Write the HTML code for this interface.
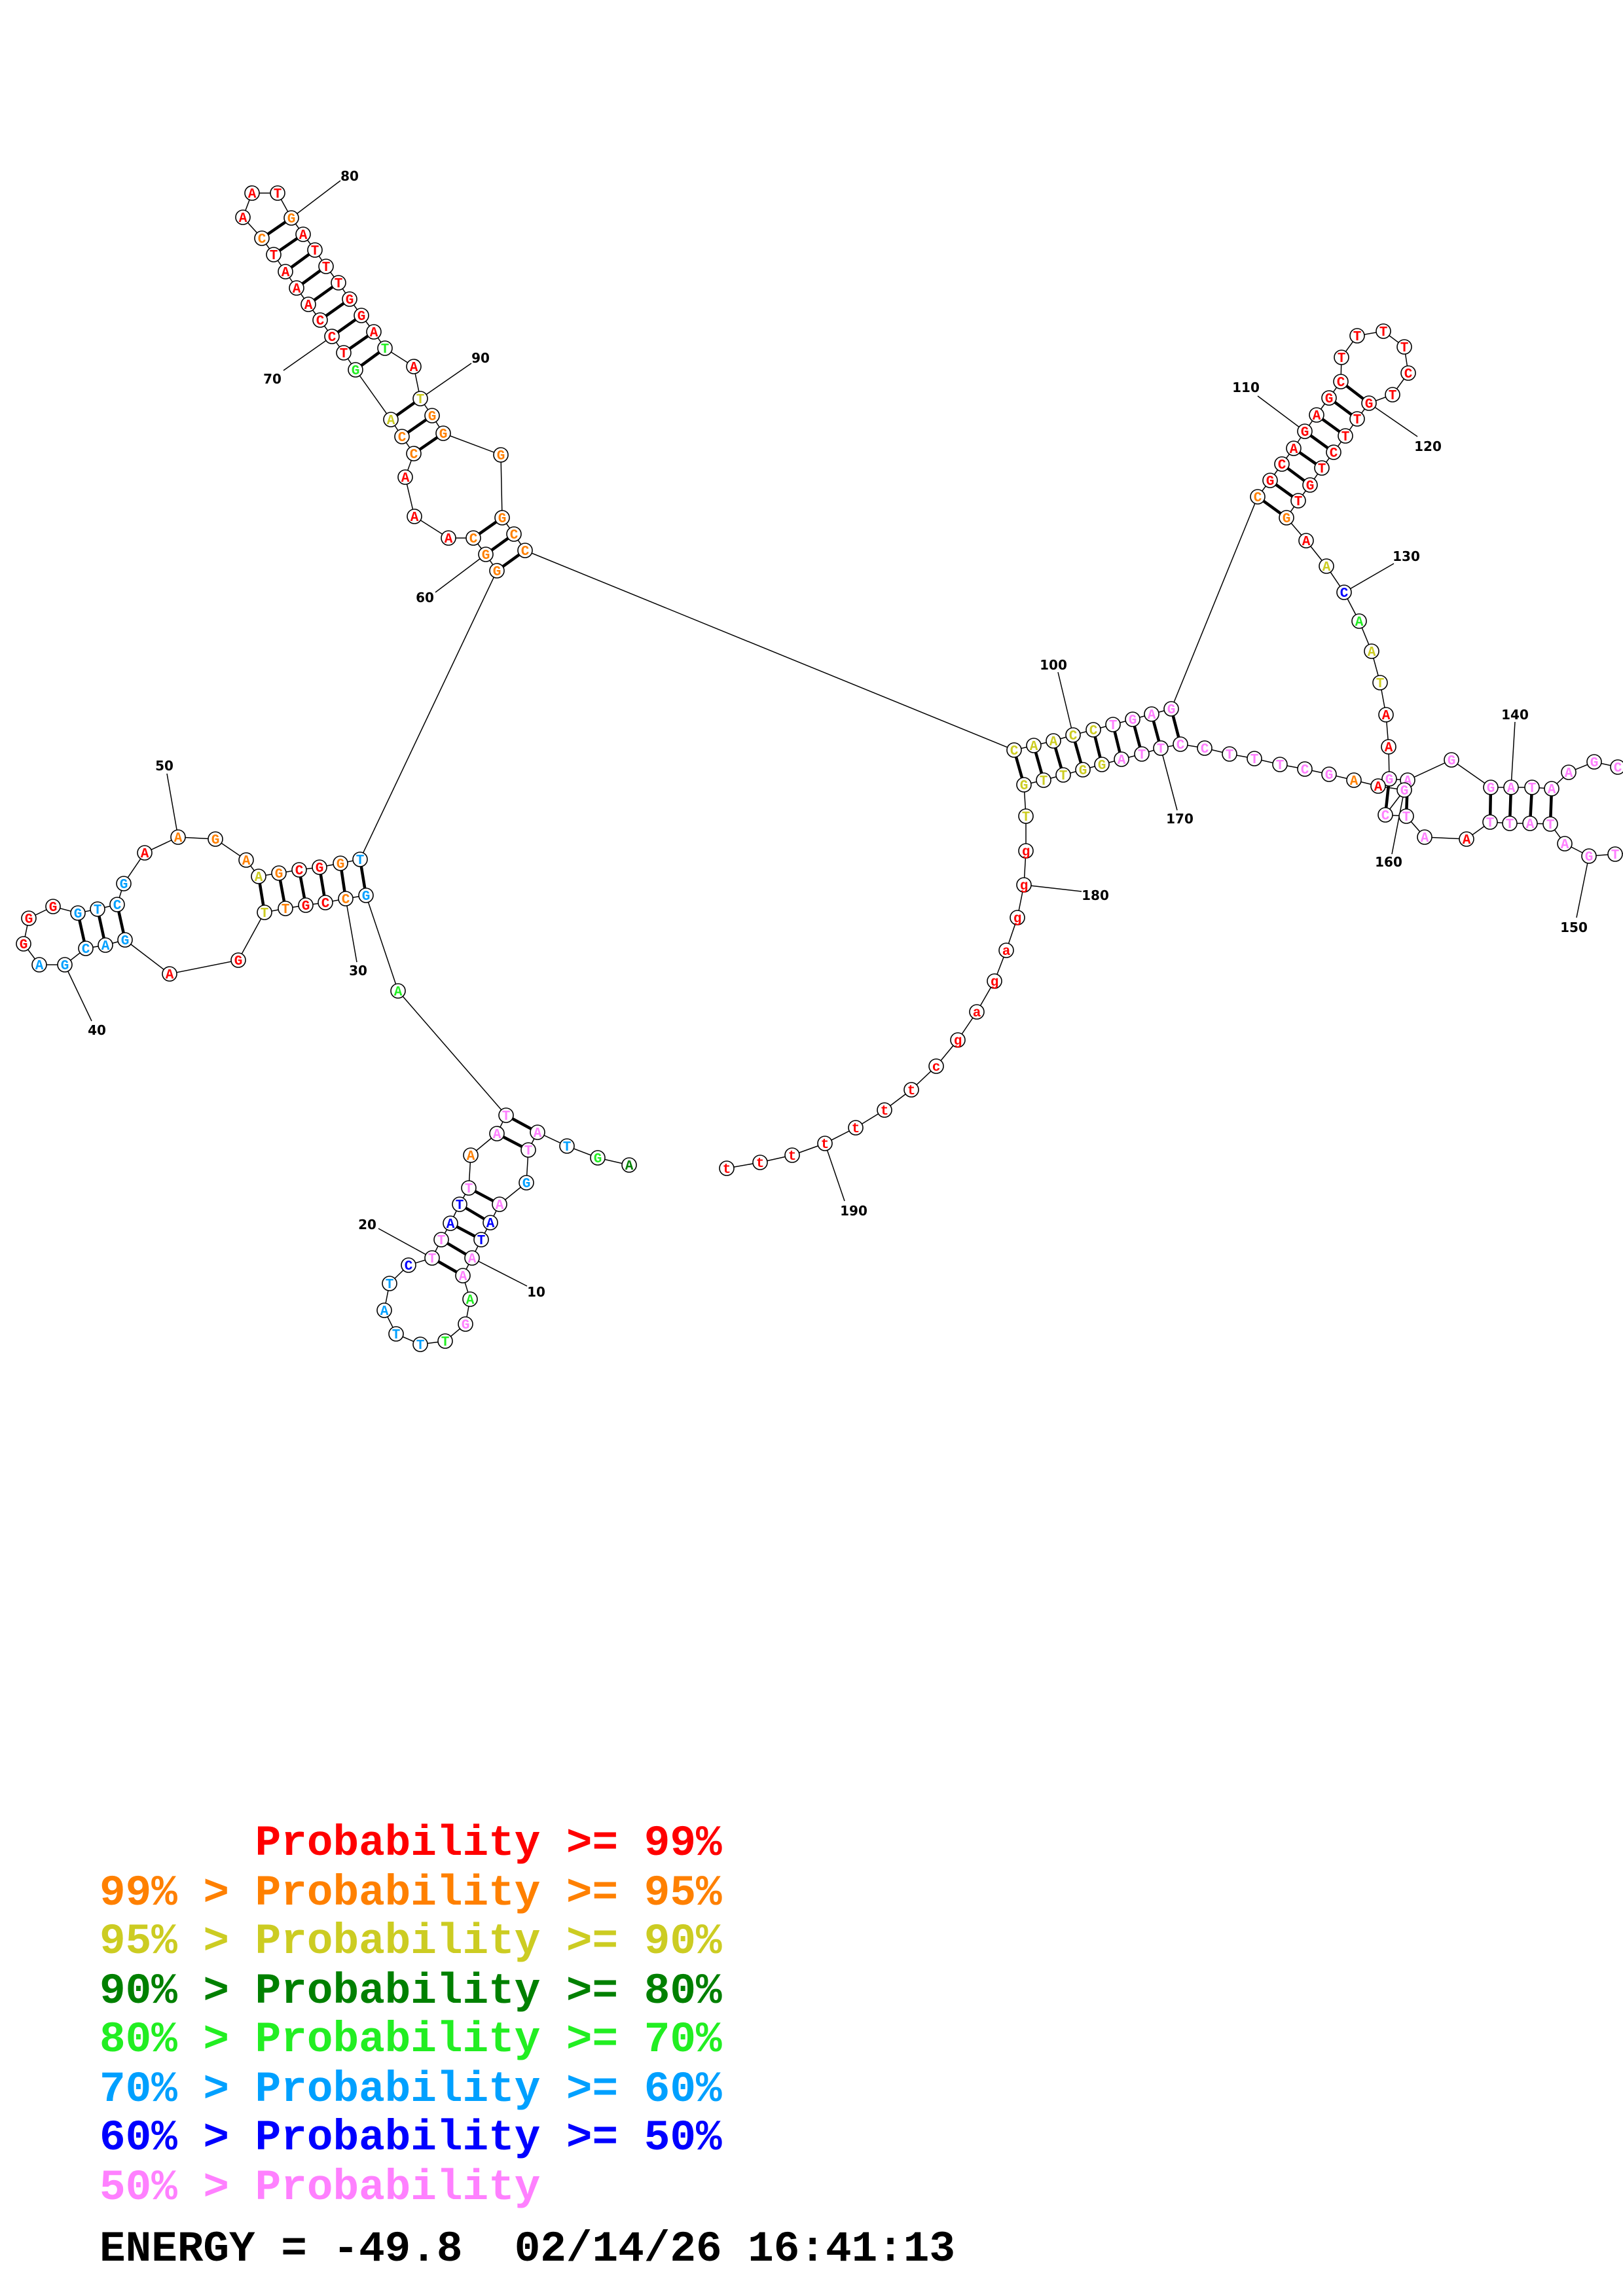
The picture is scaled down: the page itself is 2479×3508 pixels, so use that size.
<!DOCTYPE html>
<html><head><meta charset="utf-8">
<style>
html,body{margin:0;padding:0;background:#fff;}
#w{position:relative;width:2479px;height:3508px;overflow:hidden;background:#fff;}
svg{position:absolute;left:0;top:0;}
circle{fill:#fff;stroke:#000;stroke-width:1.6;}
text.n{font-family:"Liberation Mono",monospace;font-weight:bold;font-size:21px;text-anchor:middle;}
text.l{font-family:"DejaVu Sans","Liberation Sans",sans-serif;font-weight:bold;font-size:20px;text-anchor:middle;fill:#000;}
.r{fill:#ff0000}.o{fill:#ff8000}.y{fill:#cccc22}.dg{fill:#008000}.g{fill:#22ee22}.lb{fill:#00a0ff}.b{fill:#0000ff}.p{fill:#ff80ff}
.leg{position:absolute;left:152px;font-family:"Liberation Mono",monospace;font-weight:bold;font-size:66px;line-height:66px;white-space:pre;}
</style></head><body><div id="w">
<svg width="2479" height="3508" viewBox="0 0 2479 3508" xmlns="http://www.w3.org/2000/svg">
<g fill="none" stroke="#000" stroke-width="1.5">
<polyline points="961,1780 913,1769 866,1751 821,1730 807,1757 804,1807 763,1840 749,1868 735,1894 721,1922 707,1949 718,1985 711,2023 680,2049 642,2054 605,2038 587,2002 595,1961 624,1933 660,1922 674,1894 688,1869 702,1840 716,1815 719,1765 759,1732 773,1704 608,1514 559,1368 528,1373 497,1379 467,1383 436,1388 404,1394 364,1467 259,1488 191,1436 161,1444 131,1449 99,1474 60,1474 36,1442 44,1403 81,1385 119,1395 149,1389 179,1382 189,1350 221,1303 272,1279 329,1282 376,1314 395,1339 426,1334 457,1329 488,1325 520,1319 550,1313 759,872 742,847 723,822 685,822 633,789 619,729 632,693 614,667 597,641 543,565 525,539 507,514 489,489 471,465 453,440 436,415 418,389 400,364 371,332 385,295 424,295 445,333 463,358 481,382 498,407 517,432 534,457 552,482 571,507 588,532 632,560 642,609 660,635 677,662 765,695 767,791 785,816 802,841 1549,1146 1579,1139 1609,1132 1639,1123 1670,1115 1700,1107 1730,1099 1759,1091 1789,1083 1921,759 1940,734 1958,709 1976,685 1993,659 2011,634 2030,608 2048,583 2049,546 2073,513 2113,506 2145,530 2151,570 2127,603 2091,616 2073,640 2055,666 2037,691 2019,715 2001,741 1983,765 1965,791 1995,826 2026,865 2053,905 2076,949 2095,995 2108,1043 2117,1092 2121,1141 2122,1190 2150,1192 2217,1161 2277,1203 2308,1203 2340,1203 2370,1205 2396,1180 2435,1164 2471,1172 2520,1180 2520,1300 2467,1305 2427,1308 2390,1289 2368,1259 2337,1258 2306,1258 2276,1256 2240,1282 2176,1279 2148,1247 2116,1245 2145,1207 2105,1201 2068,1192 2030,1183 1993,1175 1955,1168 1916,1159 1878,1152 1840,1143 1803,1137 1773,1143 1744,1152 1713,1160 1683,1168 1654,1176 1624,1184 1594,1192 1564,1199 1567,1247 1567,1300 1564,1352 1554,1402 1537,1452 1519,1499 1492,1546 1463,1589 1430,1629 1392,1665 1351,1696 1307,1723 1260,1747 1210,1765 1161,1776 1110,1785"/>
<path d="M445,333L520,276M507,514L433,566M642,609L720,555M742,847L665,905M272,1279L255,1182M99,1474L140,1560M528,1373L545,1470M660,1922L578,1877M721,1922L805,1965M1993,659L1921,605M2091,616L2165,667M2053,905L2129,861M1639,1123L1616,1027M1773,1143L1798,1238M2145,1207L2126,1305M2308,1203L2314,1103M2427,1308L2408,1402M1564,1352L1652,1362M1260,1747L1290,1835"/>
</g>
<g stroke="#000" stroke-width="4.5">
<path d="M773,1704L821,1730M759,1732L807,1757M716,1815L763,1840M702,1840L749,1868M688,1869L735,1894M674,1894L721,1922M660,1922L707,1949"/>
<path d="M550,1313L559,1368M520,1319L528,1373M488,1325L497,1379M457,1329L467,1383M426,1334L436,1388M395,1339L404,1394"/>
<path d="M119,1395L131,1449M149,1389L161,1444M179,1382L191,1436"/>
<path d="M767,791L723,822M785,816L742,847M802,841L759,872"/>
<path d="M445,333L400,364M463,358L418,389M481,382L436,415M498,407L453,440M517,432L471,465M534,457L489,489M552,482L507,514M571,507L525,539M588,532L543,565"/>
<path d="M642,609L597,641M660,635L614,667M677,662L632,693"/>
<path d="M1549,1146L1564,1199M1579,1139L1594,1192M1609,1132L1624,1184M1639,1123L1654,1176M1670,1115L1683,1168M1700,1107L1713,1160M1730,1099L1744,1152M1759,1091L1773,1143M1789,1083L1803,1137"/>
<path d="M1921,759L1965,791M1940,734L1983,765M1958,709L2001,741M1976,685L2019,715M1993,659L2037,691M2011,634L2055,666M2030,608L2073,640M2048,583L2091,616"/>
<path d="M2122,1190L2116,1245M2150,1192L2148,1247M2277,1203L2276,1256M2308,1203L2306,1258M2340,1203L2337,1258M2370,1205L2368,1259"/>
</g>
<g>
<circle cx="961" cy="1780" r="11"/><text class="n dg" x="961" y="1787">A</text>
<circle cx="913" cy="1769" r="11"/><text class="n g" x="913" y="1776">G</text>
<circle cx="866" cy="1751" r="11"/><text class="n lb" x="866" y="1758">T</text>
<circle cx="821" cy="1730" r="11"/><text class="n p" x="821" y="1737">A</text>
<circle cx="807" cy="1757" r="11"/><text class="n p" x="807" y="1764">T</text>
<circle cx="804" cy="1807" r="11"/><text class="n lb" x="804" y="1814">G</text>
<circle cx="763" cy="1840" r="11"/><text class="n p" x="763" y="1847">A</text>
<circle cx="749" cy="1868" r="11"/><text class="n b" x="749" y="1875">A</text>
<circle cx="735" cy="1894" r="11"/><text class="n b" x="735" y="1901">T</text>
<circle cx="721" cy="1922" r="11"/><text class="n p" x="721" y="1929">A</text>
<circle cx="707" cy="1949" r="11"/><text class="n p" x="707" y="1956">A</text>
<circle cx="718" cy="1985" r="11"/><text class="n g" x="718" y="1992">A</text>
<circle cx="711" cy="2023" r="11"/><text class="n p" x="711" y="2030">G</text>
<circle cx="680" cy="2049" r="11"/><text class="n g" x="680" y="2056">T</text>
<circle cx="642" cy="2054" r="11"/><text class="n lb" x="642" y="2061">T</text>
<circle cx="605" cy="2038" r="11"/><text class="n lb" x="605" y="2045">T</text>
<circle cx="587" cy="2002" r="11"/><text class="n lb" x="587" y="2009">A</text>
<circle cx="595" cy="1961" r="11"/><text class="n lb" x="595" y="1968">T</text>
<circle cx="624" cy="1933" r="11"/><text class="n b" x="624" y="1940">C</text>
<circle cx="660" cy="1922" r="11"/><text class="n p" x="660" y="1929">T</text>
<circle cx="674" cy="1894" r="11"/><text class="n p" x="674" y="1901">T</text>
<circle cx="688" cy="1869" r="11"/><text class="n b" x="688" y="1876">A</text>
<circle cx="702" cy="1840" r="11"/><text class="n b" x="702" y="1847">T</text>
<circle cx="716" cy="1815" r="11"/><text class="n p" x="716" y="1822">T</text>
<circle cx="719" cy="1765" r="11"/><text class="n o" x="719" y="1772">A</text>
<circle cx="759" cy="1732" r="11"/><text class="n p" x="759" y="1739">A</text>
<circle cx="773" cy="1704" r="11"/><text class="n p" x="773" y="1711">T</text>
<circle cx="608" cy="1514" r="11"/><text class="n g" x="608" y="1521">A</text>
<circle cx="559" cy="1368" r="11"/><text class="n lb" x="559" y="1375">G</text>
<circle cx="528" cy="1373" r="11"/><text class="n o" x="528" y="1380">C</text>
<circle cx="497" cy="1379" r="11"/><text class="n r" x="497" y="1386">C</text>
<circle cx="467" cy="1383" r="11"/><text class="n r" x="467" y="1390">G</text>
<circle cx="436" cy="1388" r="11"/><text class="n o" x="436" y="1395">T</text>
<circle cx="404" cy="1394" r="11"/><text class="n y" x="404" y="1401">T</text>
<circle cx="364" cy="1467" r="11"/><text class="n r" x="364" y="1474">G</text>
<circle cx="259" cy="1488" r="11"/><text class="n r" x="259" y="1495">A</text>
<circle cx="191" cy="1436" r="11"/><text class="n lb" x="191" y="1443">G</text>
<circle cx="161" cy="1444" r="11"/><text class="n lb" x="161" y="1451">A</text>
<circle cx="131" cy="1449" r="11"/><text class="n lb" x="131" y="1456">C</text>
<circle cx="99" cy="1474" r="11"/><text class="n lb" x="99" y="1481">G</text>
<circle cx="60" cy="1474" r="11"/><text class="n lb" x="60" y="1481">A</text>
<circle cx="36" cy="1442" r="11"/><text class="n r" x="36" y="1449">G</text>
<circle cx="44" cy="1403" r="11"/><text class="n r" x="44" y="1410">G</text>
<circle cx="81" cy="1385" r="11"/><text class="n r" x="81" y="1392">G</text>
<circle cx="119" cy="1395" r="11"/><text class="n lb" x="119" y="1402">G</text>
<circle cx="149" cy="1389" r="11"/><text class="n lb" x="149" y="1396">T</text>
<circle cx="179" cy="1382" r="11"/><text class="n lb" x="179" y="1389">C</text>
<circle cx="189" cy="1350" r="11"/><text class="n lb" x="189" y="1357">G</text>
<circle cx="221" cy="1303" r="11"/><text class="n r" x="221" y="1310">A</text>
<circle cx="272" cy="1279" r="11"/><text class="n o" x="272" y="1286">A</text>
<circle cx="329" cy="1282" r="11"/><text class="n o" x="329" y="1289">G</text>
<circle cx="376" cy="1314" r="11"/><text class="n o" x="376" y="1321">A</text>
<circle cx="395" cy="1339" r="11"/><text class="n y" x="395" y="1346">A</text>
<circle cx="426" cy="1334" r="11"/><text class="n o" x="426" y="1341">G</text>
<circle cx="457" cy="1329" r="11"/><text class="n r" x="457" y="1336">C</text>
<circle cx="488" cy="1325" r="11"/><text class="n r" x="488" y="1332">G</text>
<circle cx="520" cy="1319" r="11"/><text class="n o" x="520" y="1326">G</text>
<circle cx="550" cy="1313" r="11"/><text class="n lb" x="550" y="1320">T</text>
<circle cx="759" cy="872" r="11"/><text class="n o" x="759" y="879">G</text>
<circle cx="742" cy="847" r="11"/><text class="n o" x="742" y="854">G</text>
<circle cx="723" cy="822" r="11"/><text class="n o" x="723" y="829">C</text>
<circle cx="685" cy="822" r="11"/><text class="n r" x="685" y="829">A</text>
<circle cx="633" cy="789" r="11"/><text class="n r" x="633" y="796">A</text>
<circle cx="619" cy="729" r="11"/><text class="n r" x="619" y="736">A</text>
<circle cx="632" cy="693" r="11"/><text class="n o" x="632" y="700">C</text>
<circle cx="614" cy="667" r="11"/><text class="n o" x="614" y="674">C</text>
<circle cx="597" cy="641" r="11"/><text class="n y" x="597" y="648">A</text>
<circle cx="543" cy="565" r="11"/><text class="n g" x="543" y="572">G</text>
<circle cx="525" cy="539" r="11"/><text class="n r" x="525" y="546">T</text>
<circle cx="507" cy="514" r="11"/><text class="n r" x="507" y="521">C</text>
<circle cx="489" cy="489" r="11"/><text class="n r" x="489" y="496">C</text>
<circle cx="471" cy="465" r="11"/><text class="n r" x="471" y="472">A</text>
<circle cx="453" cy="440" r="11"/><text class="n r" x="453" y="447">A</text>
<circle cx="436" cy="415" r="11"/><text class="n r" x="436" y="422">A</text>
<circle cx="418" cy="389" r="11"/><text class="n r" x="418" y="396">T</text>
<circle cx="400" cy="364" r="11"/><text class="n o" x="400" y="371">C</text>
<circle cx="371" cy="332" r="11"/><text class="n r" x="371" y="339">A</text>
<circle cx="385" cy="295" r="11"/><text class="n r" x="385" y="302">A</text>
<circle cx="424" cy="295" r="11"/><text class="n r" x="424" y="302">T</text>
<circle cx="445" cy="333" r="11"/><text class="n o" x="445" y="340">G</text>
<circle cx="463" cy="358" r="11"/><text class="n r" x="463" y="365">A</text>
<circle cx="481" cy="382" r="11"/><text class="n r" x="481" y="389">T</text>
<circle cx="498" cy="407" r="11"/><text class="n r" x="498" y="414">T</text>
<circle cx="517" cy="432" r="11"/><text class="n r" x="517" y="439">T</text>
<circle cx="534" cy="457" r="11"/><text class="n r" x="534" y="464">G</text>
<circle cx="552" cy="482" r="11"/><text class="n r" x="552" y="489">G</text>
<circle cx="571" cy="507" r="11"/><text class="n r" x="571" y="514">A</text>
<circle cx="588" cy="532" r="11"/><text class="n g" x="588" y="539">T</text>
<circle cx="632" cy="560" r="11"/><text class="n r" x="632" y="567">A</text>
<circle cx="642" cy="609" r="11"/><text class="n y" x="642" y="616">T</text>
<circle cx="660" cy="635" r="11"/><text class="n o" x="660" y="642">G</text>
<circle cx="677" cy="662" r="11"/><text class="n o" x="677" y="669">G</text>
<circle cx="765" cy="695" r="11"/><text class="n o" x="765" y="702">G</text>
<circle cx="767" cy="791" r="11"/><text class="n o" x="767" y="798">G</text>
<circle cx="785" cy="816" r="11"/><text class="n o" x="785" y="823">C</text>
<circle cx="802" cy="841" r="11"/><text class="n o" x="802" y="848">C</text>
<circle cx="1549" cy="1146" r="11"/><text class="n y" x="1549" y="1153">C</text>
<circle cx="1579" cy="1139" r="11"/><text class="n y" x="1579" y="1146">A</text>
<circle cx="1609" cy="1132" r="11"/><text class="n y" x="1609" y="1139">A</text>
<circle cx="1639" cy="1123" r="11"/><text class="n y" x="1639" y="1130">C</text>
<circle cx="1670" cy="1115" r="11"/><text class="n y" x="1670" y="1122">C</text>
<circle cx="1700" cy="1107" r="11"/><text class="n p" x="1700" y="1114">T</text>
<circle cx="1730" cy="1099" r="11"/><text class="n p" x="1730" y="1106">G</text>
<circle cx="1759" cy="1091" r="11"/><text class="n p" x="1759" y="1098">A</text>
<circle cx="1789" cy="1083" r="11"/><text class="n p" x="1789" y="1090">G</text>
<circle cx="1921" cy="759" r="11"/><text class="n o" x="1921" y="766">C</text>
<circle cx="1940" cy="734" r="11"/><text class="n r" x="1940" y="741">G</text>
<circle cx="1958" cy="709" r="11"/><text class="n r" x="1958" y="716">C</text>
<circle cx="1976" cy="685" r="11"/><text class="n r" x="1976" y="692">A</text>
<circle cx="1993" cy="659" r="11"/><text class="n r" x="1993" y="666">G</text>
<circle cx="2011" cy="634" r="11"/><text class="n r" x="2011" y="641">A</text>
<circle cx="2030" cy="608" r="11"/><text class="n r" x="2030" y="615">G</text>
<circle cx="2048" cy="583" r="11"/><text class="n r" x="2048" y="590">C</text>
<circle cx="2049" cy="546" r="11"/><text class="n r" x="2049" y="553">T</text>
<circle cx="2073" cy="513" r="11"/><text class="n r" x="2073" y="520">T</text>
<circle cx="2113" cy="506" r="11"/><text class="n r" x="2113" y="513">T</text>
<circle cx="2145" cy="530" r="11"/><text class="n r" x="2145" y="537">T</text>
<circle cx="2151" cy="570" r="11"/><text class="n r" x="2151" y="577">C</text>
<circle cx="2127" cy="603" r="11"/><text class="n r" x="2127" y="610">T</text>
<circle cx="2091" cy="616" r="11"/><text class="n r" x="2091" y="623">G</text>
<circle cx="2073" cy="640" r="11"/><text class="n r" x="2073" y="647">T</text>
<circle cx="2055" cy="666" r="11"/><text class="n r" x="2055" y="673">T</text>
<circle cx="2037" cy="691" r="11"/><text class="n r" x="2037" y="698">C</text>
<circle cx="2019" cy="715" r="11"/><text class="n r" x="2019" y="722">T</text>
<circle cx="2001" cy="741" r="11"/><text class="n r" x="2001" y="748">G</text>
<circle cx="1983" cy="765" r="11"/><text class="n r" x="1983" y="772">T</text>
<circle cx="1965" cy="791" r="11"/><text class="n o" x="1965" y="798">G</text>
<circle cx="1995" cy="826" r="11"/><text class="n r" x="1995" y="833">A</text>
<circle cx="2026" cy="865" r="11"/><text class="n y" x="2026" y="872">A</text>
<circle cx="2053" cy="905" r="11"/><text class="n b" x="2053" y="912">C</text>
<circle cx="2076" cy="949" r="11"/><text class="n g" x="2076" y="956">A</text>
<circle cx="2095" cy="995" r="11"/><text class="n y" x="2095" y="1002">A</text>
<circle cx="2108" cy="1043" r="11"/><text class="n y" x="2108" y="1050">T</text>
<circle cx="2117" cy="1092" r="11"/><text class="n r" x="2117" y="1099">A</text>
<circle cx="2121" cy="1141" r="11"/><text class="n r" x="2121" y="1148">A</text>
<circle cx="2122" cy="1190" r="11"/><text class="n p" x="2122" y="1197">G</text>
<circle cx="2150" cy="1192" r="11"/><text class="n p" x="2150" y="1199">A</text>
<circle cx="2217" cy="1161" r="11"/><text class="n p" x="2217" y="1168">G</text>
<circle cx="2277" cy="1203" r="11"/><text class="n p" x="2277" y="1210">G</text>
<circle cx="2308" cy="1203" r="11"/><text class="n p" x="2308" y="1210">A</text>
<circle cx="2340" cy="1203" r="11"/><text class="n p" x="2340" y="1210">T</text>
<circle cx="2370" cy="1205" r="11"/><text class="n p" x="2370" y="1212">A</text>
<circle cx="2396" cy="1180" r="11"/><text class="n p" x="2396" y="1187">A</text>
<circle cx="2435" cy="1164" r="11"/><text class="n p" x="2435" y="1171">G</text>
<circle cx="2471" cy="1172" r="11"/><text class="n p" x="2471" y="1179">C</text>
<circle cx="2467" cy="1305" r="11"/><text class="n p" x="2467" y="1312">T</text>
<circle cx="2427" cy="1308" r="11"/><text class="n p" x="2427" y="1315">G</text>
<circle cx="2390" cy="1289" r="11"/><text class="n p" x="2390" y="1296">A</text>
<circle cx="2368" cy="1259" r="11"/><text class="n p" x="2368" y="1266">T</text>
<circle cx="2337" cy="1258" r="11"/><text class="n p" x="2337" y="1265">A</text>
<circle cx="2306" cy="1258" r="11"/><text class="n p" x="2306" y="1265">T</text>
<circle cx="2276" cy="1256" r="11"/><text class="n p" x="2276" y="1263">T</text>
<circle cx="2240" cy="1282" r="11"/><text class="n r" x="2240" y="1289">A</text>
<circle cx="2176" cy="1279" r="11"/><text class="n p" x="2176" y="1286">A</text>
<circle cx="2148" cy="1247" r="11"/><text class="n p" x="2148" y="1254">T</text>
<circle cx="2116" cy="1245" r="11"/><text class="n p" x="2116" y="1252">C</text>
<circle cx="2145" cy="1207" r="11"/><text class="n p" x="2145" y="1214">G</text>
<circle cx="2105" cy="1201" r="11"/><text class="n r" x="2105" y="1208">A</text>
<circle cx="2068" cy="1192" r="11"/><text class="n o" x="2068" y="1199">A</text>
<circle cx="2030" cy="1183" r="11"/><text class="n p" x="2030" y="1190">G</text>
<circle cx="1993" cy="1175" r="11"/><text class="n p" x="1993" y="1182">C</text>
<circle cx="1955" cy="1168" r="11"/><text class="n p" x="1955" y="1175">T</text>
<circle cx="1916" cy="1159" r="11"/><text class="n p" x="1916" y="1166">T</text>
<circle cx="1878" cy="1152" r="11"/><text class="n p" x="1878" y="1159">T</text>
<circle cx="1840" cy="1143" r="11"/><text class="n p" x="1840" y="1150">C</text>
<circle cx="1803" cy="1137" r="11"/><text class="n p" x="1803" y="1144">C</text>
<circle cx="1773" cy="1143" r="11"/><text class="n p" x="1773" y="1150">T</text>
<circle cx="1744" cy="1152" r="11"/><text class="n p" x="1744" y="1159">T</text>
<circle cx="1713" cy="1160" r="11"/><text class="n p" x="1713" y="1167">A</text>
<circle cx="1683" cy="1168" r="11"/><text class="n y" x="1683" y="1175">G</text>
<circle cx="1654" cy="1176" r="11"/><text class="n y" x="1654" y="1183">G</text>
<circle cx="1624" cy="1184" r="11"/><text class="n y" x="1624" y="1191">T</text>
<circle cx="1594" cy="1192" r="11"/><text class="n y" x="1594" y="1199">T</text>
<circle cx="1564" cy="1199" r="11"/><text class="n y" x="1564" y="1206">G</text>
<circle cx="1567" cy="1247" r="11"/><text class="n y" x="1567" y="1254">T</text>
<circle cx="1567" cy="1300" r="11"/><text class="n r" x="1567" y="1307">g</text>
<circle cx="1564" cy="1352" r="11"/><text class="n r" x="1564" y="1359">g</text>
<circle cx="1554" cy="1402" r="11"/><text class="n r" x="1554" y="1409">g</text>
<circle cx="1537" cy="1452" r="11"/><text class="n r" x="1537" y="1459">a</text>
<circle cx="1519" cy="1499" r="11"/><text class="n r" x="1519" y="1506">g</text>
<circle cx="1492" cy="1546" r="11"/><text class="n r" x="1492" y="1553">a</text>
<circle cx="1463" cy="1589" r="11"/><text class="n r" x="1463" y="1596">g</text>
<circle cx="1430" cy="1629" r="11"/><text class="n r" x="1430" y="1636">c</text>
<circle cx="1392" cy="1665" r="11"/><text class="n r" x="1392" y="1672">t</text>
<circle cx="1351" cy="1696" r="11"/><text class="n r" x="1351" y="1703">t</text>
<circle cx="1307" cy="1723" r="11"/><text class="n r" x="1307" y="1730">t</text>
<circle cx="1260" cy="1747" r="11"/><text class="n r" x="1260" y="1754">t</text>
<circle cx="1210" cy="1765" r="11"/><text class="n r" x="1210" y="1772">t</text>
<circle cx="1161" cy="1776" r="11"/><text class="n r" x="1161" y="1783">t</text>
<circle cx="1110" cy="1785" r="11"/><text class="n r" x="1110" y="1792">t</text>
</g>
<g>
<text class="l" x="534" y="276">80</text>
<text class="l" x="416" y="586">70</text>
<text class="l" x="734" y="554">90</text>
<text class="l" x="649" y="920">60</text>
<text class="l" x="251" y="1177">50</text>
<text class="l" x="148" y="1581">40</text>
<text class="l" x="547" y="1490">30</text>
<text class="l" x="561" y="1878">20</text>
<text class="l" x="819" y="1981">10</text>
<text class="l" x="1609" y="1023">100</text>
<text class="l" x="1903" y="599">110</text>
<text class="l" x="2181" y="689">120</text>
<text class="l" x="2148" y="857">130</text>
<text class="l" x="2314" y="1099">140</text>
<text class="l" x="2404" y="1424">150</text>
<text class="l" x="2121" y="1324">160</text>
<text class="l" x="1802" y="1258">170</text>
<text class="l" x="1673" y="1375">180</text>
<text class="l" x="1304" y="1857">190</text>
</g>
</svg>
<div class="leg" style="top:2784px"><span style="color:#fff">99% > </span><span style="color:#ff0000">Probability >= 99%</span></div>
<div class="leg" style="top:2860px;color:#ff8000">99% > Probability >= 95%</div>
<div class="leg" style="top:2934px;color:#cccc22">95% > Probability >= 90%</div>
<div class="leg" style="top:3010px;color:#008000">90% > Probability >= 80%</div>
<div class="leg" style="top:3084px;color:#22ee22">80% > Probability >= 70%</div>
<div class="leg" style="top:3160px;color:#00a0ff">70% > Probability >= 60%</div>
<div class="leg" style="top:3234px;color:#0000ff">60% > Probability >= 50%</div>
<div class="leg" style="top:3310px;color:#ff80ff">50% > Probability</div>
<div class="leg" style="top:3404px;color:#000">ENERGY = -49.8  02/14/26 16:41:13</div>
</div></body></html>
